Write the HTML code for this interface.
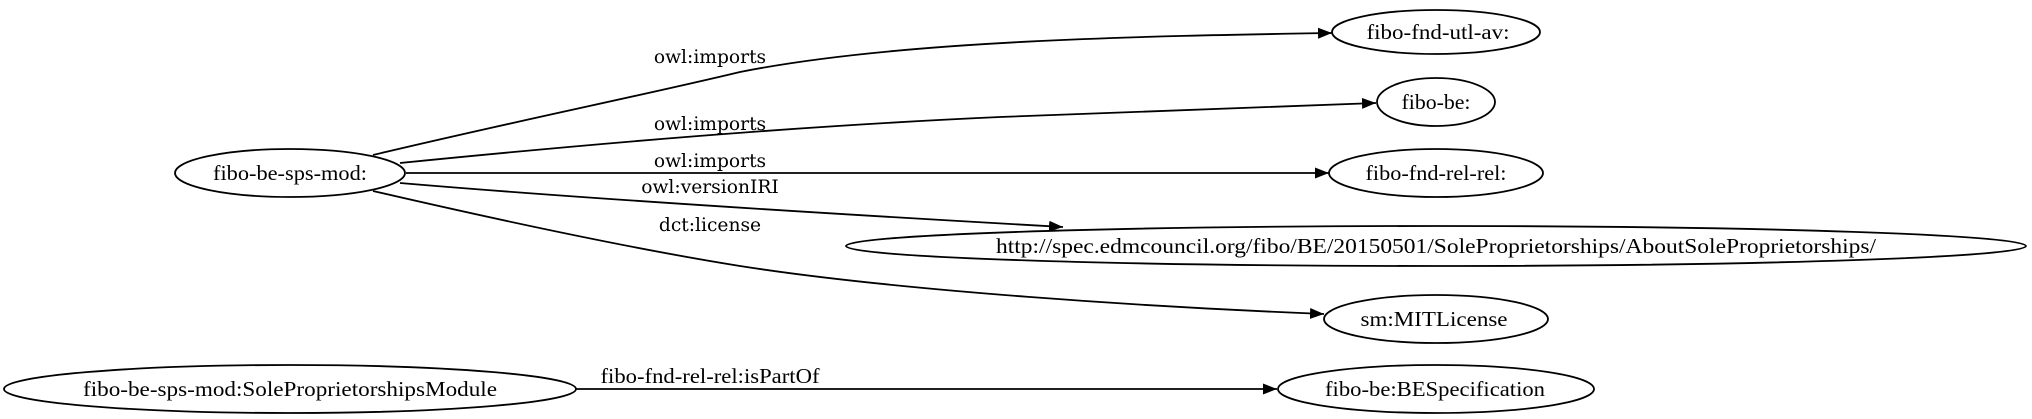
<!DOCTYPE html>
<html><head><meta charset="utf-8"><style>
html,body{margin:0;padding:0;background:#fff;width:2032px;height:419px;overflow:hidden}
svg{display:block}
.n{font-family:"Liberation Serif",serif;font-size:21px;text-anchor:middle}
.e{font-family:"DejaVu Serif","Liberation Serif",serif;font-size:18.67px;text-anchor:middle}
</style></head><body>
<svg width="2032" height="419" viewBox="0 0 2032 419" xmlns="http://www.w3.org/2000/svg">
<defs><marker id="a" markerWidth="14" markerHeight="12" refX="14" refY="6" orient="auto" markerUnits="userSpaceOnUse"><path d="M0,0.5 L14,6 L0,11.5 Z" fill="#000"/></marker></defs>
<g fill="none" stroke="#000" stroke-width="1.8">
<ellipse cx="290" cy="173" rx="115" ry="24"/>
<ellipse cx="290" cy="389" rx="286" ry="24"/>
<ellipse cx="1436" cy="32" rx="104" ry="22"/>
<ellipse cx="1436" cy="102" rx="59" ry="24"/>
<ellipse cx="1436" cy="173" rx="107" ry="24"/>
<ellipse cx="1436" cy="246" rx="590" ry="20"/>
<ellipse cx="1436" cy="319" rx="112" ry="24"/>
<ellipse cx="1436" cy="389" rx="158" ry="24"/>
<path d="M373,155 C520,120 640,96 740,72 C900,40 1150,36 1332,33" marker-end="url(#a)"/>
<path d="M400,163 C600,143 800,126 1000,117 C1150,111 1280,106 1376,103" marker-end="url(#a)"/>
<path d="M406,173 L1329,173" marker-end="url(#a)"/>
<path d="M400,183 C600,200 850,215 1063,227" marker-end="url(#a)"/>
<path d="M373,191 C520,225 640,250 740,266 C900,291 1150,307 1324,314" marker-end="url(#a)"/>
<path d="M576,389 L1277,389" marker-end="url(#a)"/>
</g>
<g fill="#000">
<text class="n" x="290" y="180" textLength="154" lengthAdjust="spacingAndGlyphs">fibo-be-sps-mod:</text>
<text class="n" x="290" y="396" textLength="414" lengthAdjust="spacingAndGlyphs">fibo-be-sps-mod:SoleProprietorshipsModule</text>
<text class="n" x="1438" y="39" textLength="143" lengthAdjust="spacingAndGlyphs">fibo-fnd-utl-av:</text>
<text class="n" x="1436" y="109" textLength="69" lengthAdjust="spacingAndGlyphs">fibo-be:</text>
<text class="n" x="1436" y="180" textLength="141" lengthAdjust="spacingAndGlyphs">fibo-fnd-rel-rel:</text>
<text class="n" x="1436" y="253" textLength="880" lengthAdjust="spacingAndGlyphs">http://spec.edmcouncil.org/fibo/BE/20150501/SoleProprietorships/AboutSoleProprietorships/</text>
<text class="n" x="1434" y="326" textLength="147" lengthAdjust="spacingAndGlyphs">sm:MITLicense</text>
<text class="n" x="1435" y="396" textLength="220" lengthAdjust="spacingAndGlyphs">fibo-be:BESpecification</text>
<text class="e" x="710" y="63">owl:imports</text>
<text class="e" x="710" y="130">owl:imports</text>
<text class="e" x="710" y="167">owl:imports</text>
<text class="e" x="710" y="193">owl:versionIRI</text>
<text class="e" x="710" y="231">dct:license</text>
<text class="n" x="710" y="383" textLength="219" lengthAdjust="spacingAndGlyphs">fibo-fnd-rel-rel:isPartOf</text>
</g>
</svg>
</body></html>
